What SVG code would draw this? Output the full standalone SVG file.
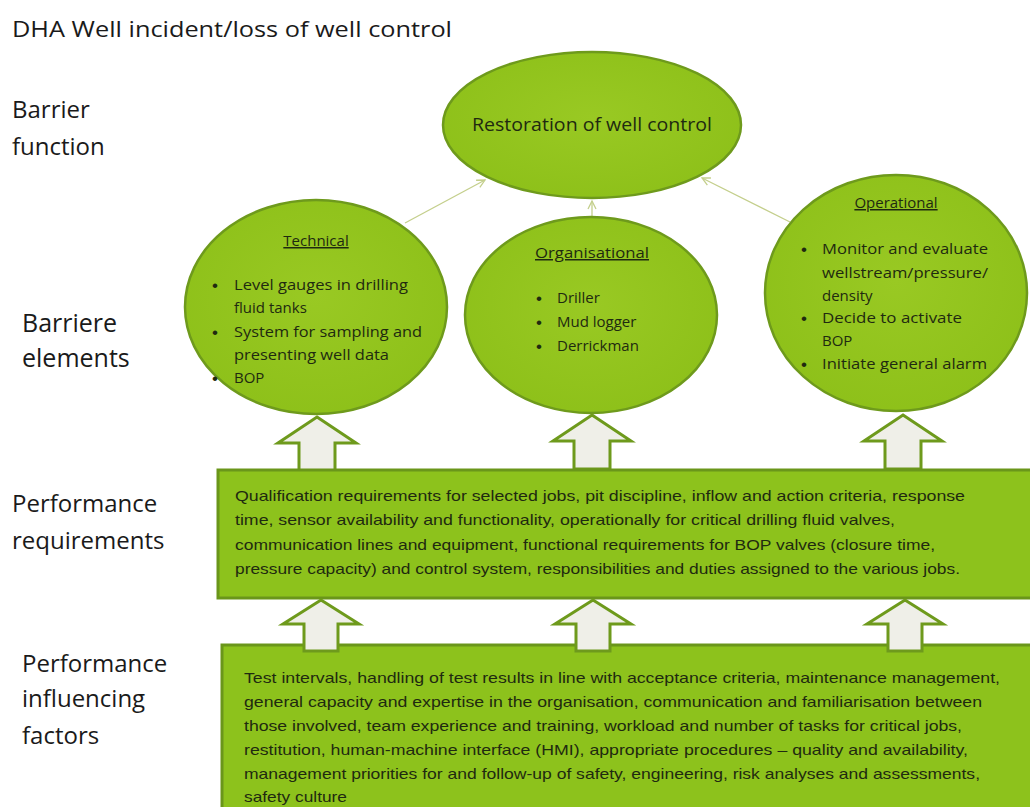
<svg xmlns="http://www.w3.org/2000/svg" width="1030" height="807" viewBox="0 0 1030 807">
<defs>
<radialGradient id="eg" cx="50%" cy="45%" r="60%">
<stop offset="0" stop-color="#99c923"/>
<stop offset="1" stop-color="#8dc019"/>
</radialGradient>
<marker id="ah" markerWidth="10" markerHeight="10" refX="9" refY="5" orient="auto" markerUnits="userSpaceOnUse">
<path d="M1,1 L9,5 L1,9" fill="none" stroke="#c4cf8c" stroke-width="1.3"/>
</marker>
<path id="barrowU" d="M0,0 L39,26 L18,26 L18,54 L-18,54 L-18,26 L-39,26 Z"/>
<path id="barrowL" d="M0,0 L38,24 L17,24 L17,51 L-17,51 L-17,24 L-38,24 Z"/>
</defs>
<style>
.ell{fill:url(#eg);stroke:#6e9a1c;stroke-width:2.5}
.box{fill:#8dc21c;stroke:#6a961a;stroke-width:3}
.lbl{font-family:"Open Sans","Liberation Sans",sans-serif;fill:#1a1a1a}
.t{font-family:"Open Sans","Liberation Sans",sans-serif;fill:#1f2a10}
.bt{font-family:"Liberation Sans",sans-serif;fill:#1f2a10;font-size:15px}
.bu{font-family:"Liberation Sans",sans-serif;fill:#1f2a10;font-size:17px}
.ba{fill:#efefe8;stroke:#6e9a1c;stroke-width:3;stroke-linejoin:miter}
.con{stroke:#c4cf8c;stroke-width:1.3;fill:none}
</style>
<rect width="1030" height="807" fill="#ffffff"/>

<g id="labels" class="lbl">
<text x="12" y="37" font-size="22" textLength="440" lengthAdjust="spacingAndGlyphs">DHA Well incident/loss of well control</text>
<text x="12" y="118" font-size="24">Barrier</text>
<text x="12" y="155" font-size="24">function</text>
<text x="22" y="332" font-size="25">Barriere</text>
<text x="22" y="367" font-size="25">elements</text>
<text x="12" y="512" font-size="24">Performance</text>
<text x="12" y="549" font-size="24">requirements</text>
<text x="22" y="672" font-size="24">Performance</text>
<text x="22" y="707" font-size="24">influencing</text>
<text x="22" y="744" font-size="24">factors</text>
</g>

<g id="connectors">
<line class="con" x1="405" y1="223" x2="485" y2="180" marker-end="url(#ah)"/>
<line class="con" x1="592" y1="216" x2="592" y2="201" marker-end="url(#ah)"/>
<line class="con" x1="790" y1="222" x2="702" y2="178" marker-end="url(#ah)"/>
</g>

<g id="node-restoration">
<ellipse class="ell" cx="592" cy="125" rx="149" ry="73"/>
<text class="t" x="592" y="131" font-size="18" text-anchor="middle" textLength="240" lengthAdjust="spacingAndGlyphs">Restoration of well control</text>
</g>

<g id="node-technical">
<ellipse class="ell" cx="316" cy="307" rx="131" ry="107"/>
<text class="t" x="316" y="246" font-size="15" text-anchor="middle" text-decoration="underline">Technical</text>
<g class="t" font-size="15">
<text class="bu" x="212" y="291">•</text><text x="234" y="290" textLength="174" lengthAdjust="spacingAndGlyphs">Level gauges in drilling</text>
<text x="234" y="313">fluid tanks</text>
<text class="bu" x="212" y="338">•</text><text x="234" y="337" textLength="188" lengthAdjust="spacingAndGlyphs">System for sampling and</text>
<text x="234" y="360" textLength="155" lengthAdjust="spacingAndGlyphs">presenting well data</text>
<text class="bu" x="212" y="384">•</text><text x="234" y="383">BOP</text>
</g>
</g>

<g id="node-organisational">
<ellipse class="ell" cx="591" cy="315" rx="126" ry="98"/>
<text class="t" x="592" y="258" font-size="15" text-anchor="middle" text-decoration="underline" textLength="114" lengthAdjust="spacingAndGlyphs">Organisational</text>
<g class="t" font-size="15">
<text class="bu" x="536" y="304">•</text><text x="557" y="303">Driller</text>
<text class="bu" x="536" y="328">•</text><text x="557" y="327">Mud logger</text>
<text class="bu" x="536" y="352">•</text><text x="557" y="351">Derrickman</text>
</g>
</g>

<g id="node-operational">
<ellipse class="ell" cx="896" cy="293" rx="131" ry="118"/>
<text class="t" x="896" y="208" font-size="15" text-anchor="middle" text-decoration="underline">Operational</text>
<g class="t" font-size="15">
<text class="bu" x="801" y="255">•</text><text x="822" y="254" textLength="166" lengthAdjust="spacingAndGlyphs">Monitor and evaluate</text>
<text x="822" y="278" textLength="166" lengthAdjust="spacingAndGlyphs">wellstream/pressure/</text>
<text x="822" y="301">density</text>
<text class="bu" x="801" y="324">•</text><text x="822" y="323" textLength="140" lengthAdjust="spacingAndGlyphs">Decide to activate</text>
<text x="822" y="346">BOP</text>
<text class="bu" x="801" y="370">•</text><text x="822" y="369" textLength="165" lengthAdjust="spacingAndGlyphs">Initiate general alarm</text>
</g>
</g>

<g id="arrows-upper">
<use href="#barrowU" class="ba" x="317" y="417"/>
<use href="#barrowU" class="ba" x="592" y="415"/>
<use href="#barrowU" class="ba" x="903" y="415"/>
</g>

<g id="node-performance-requirements">
<rect class="box" x="218" y="470" width="820" height="128"/>
<g class="bt">
<text x="235" y="501" textLength="730" lengthAdjust="spacingAndGlyphs">Qualification requirements  for selected jobs, pit discipline, inflow and action criteria, response</text>
<text x="235" y="525" textLength="660" lengthAdjust="spacingAndGlyphs">time, sensor availability and functionality, operationally for critical drilling fluid valves,</text>
<text x="235" y="550" textLength="700" lengthAdjust="spacingAndGlyphs">communication  lines and equipment,  functional requirements  for BOP valves (closure time,</text>
<text x="235" y="574" textLength="725" lengthAdjust="spacingAndGlyphs">pressure capacity) and control  system, responsibilities and duties assigned to the various jobs.</text>
</g>
</g>

<g id="node-influencing-factors">
<rect class="box" x="222" y="645" width="820" height="170"/>
<g class="bt">
<text x="244" y="683" textLength="756" lengthAdjust="spacingAndGlyphs">Test intervals, handling of test results in line with acceptance criteria, maintenance management,</text>
<text x="244" y="707" textLength="738" lengthAdjust="spacingAndGlyphs">general capacity and expertise in the organisation, communication  and familiarisation between</text>
<text x="244" y="731" textLength="718" lengthAdjust="spacingAndGlyphs">those involved, team experience and training, workload and number of tasks for critical jobs,</text>
<text x="244" y="755" textLength="724" lengthAdjust="spacingAndGlyphs">restitution, human-machine interface (HMI), appropriate procedures – quality and availability,</text>
<text x="244" y="779" textLength="736" lengthAdjust="spacingAndGlyphs">management priorities for and follow-up of safety, engineering, risk analyses and assessments,</text>
<text x="244" y="802" textLength="103" lengthAdjust="spacingAndGlyphs">safety culture</text>
</g>
</g>

<g id="arrows-lower">
<use href="#barrowL" class="ba" x="321" y="600"/>
<use href="#barrowL" class="ba" x="593" y="600"/>
<use href="#barrowL" class="ba" x="905" y="600"/>
</g>
</svg>
